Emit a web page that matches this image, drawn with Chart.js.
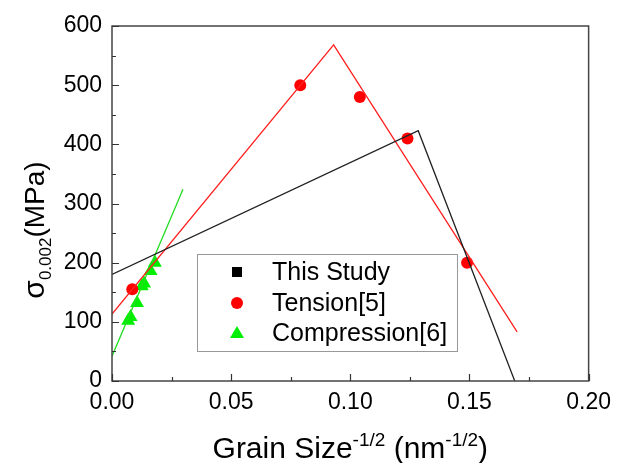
<!DOCTYPE html>
<html>
<head>
<meta charset="utf-8">
<script src="https://cdn.jsdelivr.net/npm/chart.js@4.4.1/dist/chart.umd.min.js"></script>
<style>
html,body{margin:0;padding:0;background:#fff;}
#c{display:block;}
</style>
</head>
<body>
<canvas id="c" width="619" height="463"></canvas>
<script>
// ---- data ----
const xTicks = [0.00, 0.05, 0.10, 0.15, 0.20];
const yTicks = [0, 100, 200, 300, 400, 500, 600];

const studyFitX = [0, 0.1285, 0.169];
const studyFitY = [180, 423, 0];

const tensionX = [0.0085, 0.079, 0.104, 0.124, 0.149];
const tensionY = [155, 500, 480, 410, 200];
const tensionFitX = [0, 0.093, 0.170];
const tensionFitY = [113, 568, 83];

const compX = [0.0068, 0.0078, 0.0105, 0.0125, 0.0135, 0.0162, 0.0180];
const compY = [102, 108, 132, 160, 165, 186, 200];
const compFitX = [0, 0.0298];
const compFitY = [42, 324];

const legendLabels = ['This Study', 'Tension[5]', 'Compression[6]'];

const FONT = "'Liberation Sans', Arial, sans-serif";
const pts = (xs, ys) => xs.map((x, i) => ({x: x, y: ys[i]}));

const framePlugin = {
  id: 'frame',
  afterDraw(chart) {
    const ctx = chart.ctx;
    const a = chart.chartArea;
    const xs = chart.scales.x, ys = chart.scales.y;
    ctx.save();
    // frame
    ctx.strokeStyle = '#444';
    ctx.lineWidth = 1.5;
    ctx.strokeRect(a.left, a.top, a.right - a.left, a.bottom - a.top);
    // inward ticks
    ctx.lineWidth = 1.2;
    ctx.strokeStyle = '#333';
    ctx.beginPath();
    for (let v = 0; v <= 0.2001; v += 0.025) {
      const px = Math.round(xs.getPixelForValue(v)) + 0.5;
      const major = Math.abs(v / 0.05 - Math.round(v / 0.05)) < 1e-6;
      const len = major ? 7 : 4;
      ctx.moveTo(px, a.bottom);
      ctx.lineTo(px, a.bottom - len);
    }
    for (let v = 0; v <= 600; v += 50) {
      const py = Math.round(ys.getPixelForValue(v)) + 0.5;
      const len = (v % 100 === 0) ? 7 : 4;
      ctx.moveTo(a.left, py);
      ctx.lineTo(a.left + len, py);
    }
    ctx.stroke();

    // x axis title with superscripts
    ctx.fillStyle = '#000';
    const big = 30, small = 19;
    const parts = [
      ['Grain Size', big, 0],
      ['-1/2', small, -12],
      [' (nm', big, 0],
      ['-1/2', small, -12],
      [')', big, 0]
    ];
    let total = 0;
    parts.forEach(p => { ctx.font = p[1] + 'px ' + FONT; total += ctx.measureText(p[0]).width; });
    let x0 = (a.left + a.right) / 2 - total / 2;
    const base = 458;
    ctx.textBaseline = 'alphabetic';
    ctx.textAlign = 'left';
    parts.forEach(p => {
      ctx.font = p[1] + 'px ' + FONT;
      ctx.fillText(p[0], x0, base + p[2]);
      x0 += ctx.measureText(p[0]).width;
    });

    // y axis title (rotated) sigma_0.002(MPa)
    ctx.save();
    ctx.translate(44, 230);
    ctx.rotate(-Math.PI / 2);
    const yparts = [
      ['\u03C3', 30, 0],
      ['0.002', 17, 7],
      ['(MPa)', 28, 0]
    ];
    let yt = 0;
    yparts.forEach(p => { ctx.font = p[1] + 'px ' + FONT; yt += ctx.measureText(p[0]).width; });
    let yx = -yt / 2;
    yparts.forEach(p => {
      ctx.font = p[1] + 'px ' + FONT;
      ctx.fillText(p[0], yx, p[2]);
      yx += ctx.measureText(p[0]).width;
    });
    ctx.restore();

    // legend
    const lx = 197, ly = 254, lw = 260, lh = 97;
    ctx.fillStyle = '#fff';
    ctx.fillRect(lx, ly, lw, lh);
    ctx.strokeStyle = '#999';
    ctx.lineWidth = 1;
    ctx.strokeRect(lx + 0.5, ly + 0.5, lw, lh);
    const rows = [272, 303, 333];
    const mx = 237, tx = 272;
    ctx.font = '25px ' + FONT;
    ctx.textBaseline = 'middle';
    ctx.fillStyle = '#000';
    // square
    ctx.fillRect(mx - 5, rows[0] - 5, 10, 10);
    // circle
    ctx.fillStyle = '#ff0000';
    ctx.beginPath(); ctx.arc(mx, rows[1], 6, 0, Math.PI * 2); ctx.fill();
    // triangle
    ctx.fillStyle = '#00ee00';
    ctx.beginPath();
    ctx.moveTo(mx, rows[2] - 7); ctx.lineTo(mx + 7, rows[2] + 5); ctx.lineTo(mx - 7, rows[2] + 5);
    ctx.closePath(); ctx.fill();
    ctx.fillStyle = '#000';
    legendLabels.forEach((t, i) => ctx.fillText(t, tx, rows[i] + 1));
    ctx.restore();
  }
};

new Chart(document.getElementById('c'), {
  type: 'scatter',
  data: {
    datasets: [
      { label: 'This Study fit', data: pts(studyFitX, studyFitY), showLine: true,
        borderColor: '#222', borderWidth: 1.3, pointRadius: 0, fill: false },
      { label: 'Tension fit', data: pts(tensionFitX, tensionFitY), showLine: true,
        borderColor: '#ff2020', borderWidth: 1.3, pointRadius: 0, fill: false },
      { label: 'Compression fit', data: pts(compFitX, compFitY), showLine: true,
        borderColor: '#22dd22', borderWidth: 1.3, pointRadius: 0, fill: false },
      { label: legendLabels[1], data: pts(tensionX, tensionY), pointStyle: 'circle',
        pointRadius: 6, backgroundColor: '#ff0000', borderColor: '#ff0000', borderWidth: 0 },
      { label: legendLabels[2], data: pts(compX, compY), pointStyle: 'triangle',
        pointRadius: 8, backgroundColor: '#00ee00', borderColor: '#00ee00', borderWidth: 0 }
    ]
  },
  options: {
    responsive: false,
    animation: false,
    devicePixelRatio: 1,
    layout: { padding: { top: 26, right: 26, left: 0, bottom: 0 } },
    plugins: { legend: { display: false }, tooltip: { enabled: false } },
    scales: {
      x: {
        type: 'linear', min: 0, max: 0.2,
        afterBuildTicks: s => { s.ticks = xTicks.map(v => ({value: v})); },
        ticks: { callback: v => Number(v).toFixed(2), font: { size: 23, family: FONT }, color: '#000', padding: 8, maxRotation: 0 },
        grid: { display: false, drawTicks: false },
        border: { display: false },
        afterFit: s => { s.height = 82; }
      },
      y: {
        type: 'linear', min: 0, max: 600,
        afterBuildTicks: s => { s.ticks = yTicks.map(v => ({value: v})); },
        ticks: { callback: v => String(v), font: { size: 23, family: FONT }, color: '#000', padding: 10 },
        grid: { display: false, drawTicks: false },
        border: { display: false },
        afterFit: s => { s.width = 112; }
      }
    }
  },
  plugins: [framePlugin]
});
</script>
</body>
</html>
